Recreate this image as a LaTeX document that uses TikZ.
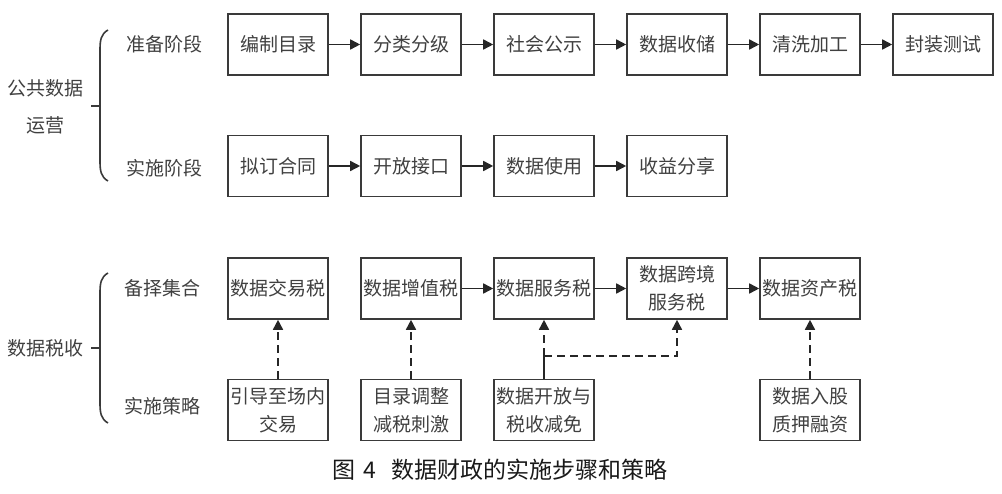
\documentclass[tikz,border=0pt]{standalone}
\usepackage{fontspec}
\newfontfamily\cjk{Noto Sans CJK SC}
\usetikzlibrary{positioning,arrows.meta}
\definecolor{boxline}{HTML}{3A3A3A}
\definecolor{boxtext}{HTML}{404040}
\tikzset{
	every block/.style={draw=boxline, line width=1.6pt, minimum width=100pt,
		minimum height=61pt, inner sep=0pt, align=center, text=boxtext,
		font=\cjk\fontsize{19}{28}\selectfont},
	every stage/.style={text=boxtext, align=center, inner sep=0pt,
		font=\cjk\fontsize{19}{37}\selectfont},
	flow/.style={-{Triangle[length=10pt,width=10pt]}, line width=1.6pt, draw=black!85},
	hint/.style={flow, dash pattern=on 8pt off 5pt},
	brace/.style={line width=1.6pt, draw=boxline},
}

\begin{document}
\begin{tikzpicture}[x=1pt, y=-1pt]
		\useasboundingbox (0,0) rectangle (1002,494);

		% public data operation
		\node [every stage/.try] (g-1) at (46,107) {公共数据\\运营};
		\node [every stage/.try] (st-1) at (164,44) {准备阶段};
		\node [every stage/.try] (st-2) at (164,168) {实施阶段};
		\foreach \l [count=\i] in {编制目录,分类分级,社会公示,数据收储,清洗加工,封装测试} {
			\node [every block/.try] (p-\i) at ({278+133*(\i-1)},44.5) {\l};
		};
		\foreach \l [count=\i] in {拟订合同,开放接口,数据使用,收益分享} {
			\node [every block/.try] (s-\i) at ({278+133*(\i-1)},166) {\l};
		};
		\foreach \i [evaluate=\i as \j using int(\i+1)] in {1,...,5} {
			\draw [flow] (p-\i.east) -- (p-\j.west);
		};
		\foreach \i [evaluate=\i as \j using int(\i+1)] in {1,...,3} {
			\draw [flow] (s-\i.east) -- (s-\j.west);
		};
		\draw [brace] (108,30) .. controls (101,34) and (100,40) .. (100,50)
			-- (100,161) .. controls (100,171) and (101,177) .. (108,181);
		\draw [brace] (91,106) -- (100,106);

		% data taxation
		\node [every stage/.try] (g-2) at (46,348) {数据税收};
		\node [every stage/.try] (st-3) at (162,288) {备择集合};
		\node [every stage/.try] (st-4) at (162,406) {实施策略};
		\foreach \l [count=\i] in {数据交易税,数据增值税,数据服务税,{数据跨境\\服务税},数据资产税} {
			\node [every block/.try] (t-\i) at ({278+133*(\i-1)},288.5) {\l};
		};
		\foreach \i/\l in {1/{引导至场内\\交易},2/{目录调整\\减税刺激},3/{数据开放与\\税收减免},5/{数据入股\\质押融资}} {
			\node [every block/.try] (c-\i) at ({278+133*(\i-1)},410) {\l};
		};
		\foreach \i [evaluate=\i as \j using int(\i+1)] in {2,...,4} {
			\draw [flow] (t-\i.east) -- (t-\j.west);
		};
		\foreach \i in {1,2,5} {
			\draw [hint] (c-\i.north) -- (t-\i.south);
		};
		\coordinate (j) at (544,356);
		\draw [line width=1.6pt, draw=black!85] (c-3.north) -- (j);
		\draw [hint] (j) -- (t-3.south);
		\draw [hint] (j) -- (j -| t-4) -- (t-4.south);
		\draw [brace] (108,273) .. controls (101,277) and (100,283) .. (100,293)
			-- (100,403) .. controls (100,413) and (101,419) .. (108,423);
		\draw [brace] (91,348) -- (100,348);

		\node [font=\cjk\fontsize{23}{28}\selectfont, text=black!90] (cap) at (500,470)
			{图\hspace{0.35em}4\hspace{0.7em}数据财政的实施步骤和策略};
	\end{tikzpicture}
\end{document}
